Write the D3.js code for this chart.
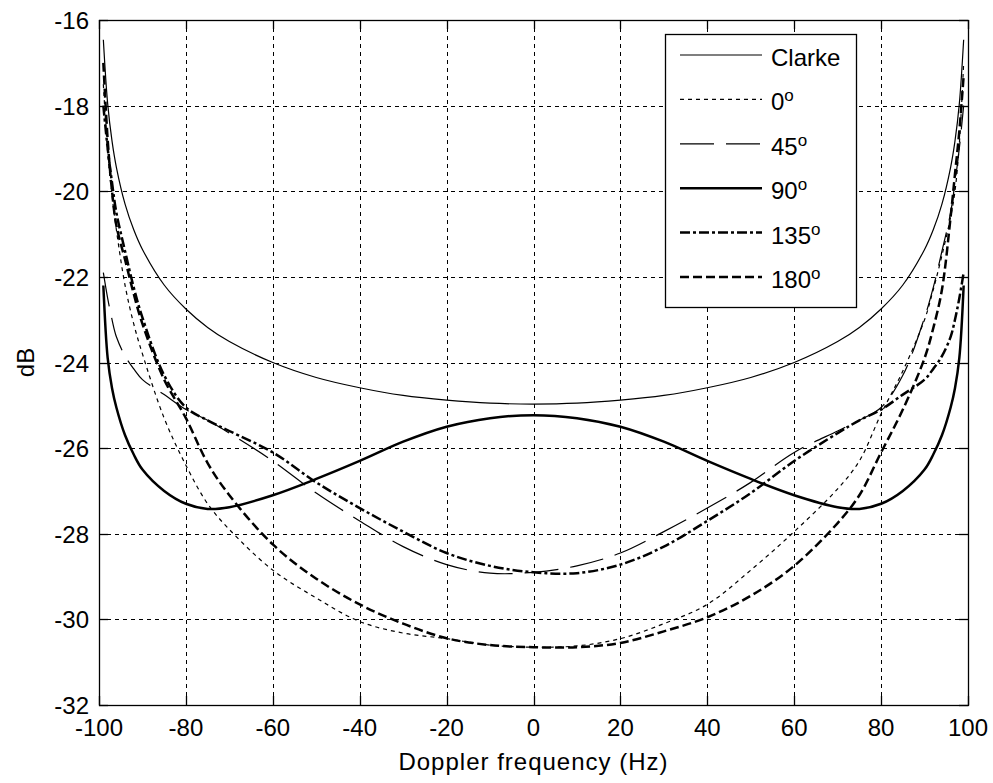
<!DOCTYPE html>
<meta charset="utf-8">
<script src="https://d3js.org/d3.v7.min.js"></script>
<style>
  body { margin: 0; background: #fff; }
  text { font-family: "Liberation Sans", Arial, sans-serif; fill: #000; }
</style>
<div id="chart"></div>
<script>

// Doppler frequency grid (Hz)
var freqs = [-99, -98, -97, -96, -94, -92, -90, -85, -80, -75, -70, -60, -50, -40, -30, -20, -10,
             0, 10, 20, 30, 40, 50, 60, 70, 75, 80, 85, 90, 92, 94, 96, 97, 98, 99];

// spectra in dB
var clarke = [-16.46, -17.96, -18.83, -19.44, -20.30, -20.90, -21.36, -22.19, -22.75, -23.18, -23.51, -24.0, -24.35, -24.59, -24.77, -24.88, -24.95,
              -24.97, -24.95, -24.88, -24.77, -24.59, -24.35, -24.0, -23.51, -23.18, -22.75, -22.19, -21.36, -20.90, -20.30, -19.44, -18.83, -17.96, -16.46];
var deg0   = [-17.5, -19.1, -20.1, -20.9, -22.2, -23.1, -23.8, -25.3, -26.4, -27.3, -27.9, -28.85, -29.5, -30.05, -30.32, -30.45, -30.6,
              -30.65, -30.62, -30.45, -30.1, -29.65, -28.85, -27.95, -26.95, -26.3, -25.2, -24.2, -23.0, -22.3, -21.5, -20.6, -20.0, -18.9, -17.0];
var deg45  = [-21.9, -22.5, -23.0, -23.4, -23.85, -24.15, -24.4, -24.75, -25.1, -25.35, -25.65, -26.3, -27.05, -27.7, -28.3, -28.72, -28.92,
              -28.9, -28.75, -28.45, -27.95, -27.4, -26.8, -26.1, -25.6, -25.35, -25.05, -24.3, -22.95, -22.25, -21.4, -20.5, -19.8, -19.0, -18.0];
var deg90  = [-22.2, -23.9, -24.6, -25.05, -25.7, -26.15, -26.5, -27.0, -27.3, -27.42, -27.38, -27.1, -26.72, -26.3, -25.85, -25.5, -25.3,
              -25.23, -25.3, -25.5, -25.85, -26.3, -26.72, -27.1, -27.38, -27.42, -27.3, -27.0, -26.5, -26.15, -25.7, -25.05, -24.6, -23.9, -22.2];
var deg135 = [-18.0, -19.0, -19.8, -20.5, -21.4, -22.25, -22.95, -24.3, -25.05, -25.35, -25.6, -26.1, -26.8, -27.4, -27.95, -28.45, -28.75,
              -28.9, -28.92, -28.72, -28.3, -27.7, -27.05, -26.3, -25.65, -25.35, -25.1, -24.75, -24.4, -24.15, -23.85, -23.4, -23.0, -22.5, -21.9];
var deg180 = [-17.0, -18.8, -20.0, -20.8, -21.6, -22.4, -23.1, -24.4, -25.3, -26.35, -27.1, -28.25, -29.05, -29.65, -30.1, -30.44, -30.6,
              -30.65, -30.65, -30.55, -30.28, -29.95, -29.45, -28.75, -27.75, -27.1, -26.1, -25.1, -23.9, -23.2, -22.3, -20.6, -19.6, -18.6, -17.3];

var xTicks = [-100, -80, -60, -40, -20, 0, 20, 40, 60, 80, 100];
var yTicks = [-32, -30, -28, -26, -24, -22, -20, -18, -16];

var seriesNames = ["Clarke", "0", "45", "90", "135", "180"];
var seriesValues = [clarke, deg0, deg45, deg90, deg135, deg180];

// line styles, same order as the series
var styles = [
  {w: 1.2, dash: null},
  {w: 1.2, dash: "4,4"},
  {w: 1.2, dash: "34,12"},
  {w: 2.5, dash: null},
  {w: 2.5, dash: "10,3,3,3"},
  {w: 2.5, dash: "9,4"}
];

var W = 993, H = 783;
var m = {left: 99, right: 968, top: 20, bottom: 705};

var svg = d3.select("#chart").append("svg")
    .attr("width", W)
    .attr("height", H);

var x = d3.scaleLinear().domain([-100, 100]).range([m.left, m.right]);
var y = d3.scaleLinear().domain([-32, -16]).range([m.bottom, m.top]);

// grid
var grid = svg.append("g")
    .attr("stroke", "#000")
    .attr("stroke-width", 1)
    .attr("stroke-dasharray", "4,4")
    .attr("shape-rendering", "crispEdges");

grid.selectAll(".gx")
  .data(xTicks.slice(1, -1))
  .enter().append("line")
    .attr("x1", d => Math.round(x(d)) + 0.5)
    .attr("x2", d => Math.round(x(d)) + 0.5)
    .attr("y1", m.top)
    .attr("y2", m.bottom);

grid.selectAll(".gy")
  .data(yTicks.slice(1, -1))
  .enter().append("line")
    .attr("y1", d => Math.round(y(d)) + 0.5)
    .attr("y2", d => Math.round(y(d)) + 0.5)
    .attr("x1", m.left)
    .attr("x2", m.right);

// curves
svg.append("clipPath").attr("id", "clip")
  .append("rect")
    .attr("x", m.left).attr("y", m.top)
    .attr("width", m.right - m.left).attr("height", m.bottom - m.top);

var line = d3.line()
    .x(d => x(d[0]))
    .y(d => y(d[1]))
    .curve(d3.curveCatmullRom.alpha(0.5));

svg.append("g")
    .attr("clip-path", "url(#clip)")
  .selectAll("path")
  .data(seriesValues)
  .enter().append("path")
    .attr("d", vals => line(freqs.map((f, i) => [f, vals[i]])))
    .attr("fill", "none")
    .attr("stroke", "#000")
    .attr("stroke-width", (d, i) => styles[i].w)
    .attr("stroke-dasharray", (d, i) => styles[i].dash);

// axes box and ticks
svg.append("rect")
    .attr("x", m.left + 0.5).attr("y", m.top + 0.5)
    .attr("width", m.right - m.left).attr("height", m.bottom - m.top)
    .attr("fill", "none")
    .attr("stroke", "#000")
    .attr("stroke-width", 1.3);

var tickLen = 9;
var ticks = svg.append("g").attr("stroke", "#000").attr("stroke-width", 1.3);
xTicks.forEach(function(t) {
  var px = Math.round(x(t)) + 0.5;
  ticks.append("line").attr("x1", px).attr("x2", px).attr("y1", m.bottom).attr("y2", m.bottom - tickLen);
  ticks.append("line").attr("x1", px).attr("x2", px).attr("y1", m.top).attr("y2", m.top + tickLen);
});
yTicks.forEach(function(t) {
  var py = Math.round(y(t)) + 0.5;
  ticks.append("line").attr("y1", py).attr("y2", py).attr("x1", m.left).attr("x2", m.left + tickLen);
  ticks.append("line").attr("y1", py).attr("y2", py).attr("x1", m.right).attr("x2", m.right - tickLen);
});

svg.append("g").selectAll("text")
  .data(xTicks)
  .enter().append("text")
    .attr("x", d => x(d))
    .attr("y", m.bottom + 31)
    .attr("text-anchor", "middle")
    .style("font-size", "24px")
    .text(d => d);

svg.append("g").selectAll("text")
  .data(yTicks)
  .enter().append("text")
    .attr("x", m.left - 10)
    .attr("y", d => y(d) + 9)
    .attr("text-anchor", "end")
    .style("font-size", "24px")
    .text(d => d);

svg.append("text")
    .attr("x", (m.left + m.right) / 2)
    .attr("y", 770)
    .attr("text-anchor", "middle")
    .style("font-size", "24px")
    .style("letter-spacing", "1px")
    .text("Doppler frequency (Hz)");

svg.append("text")
    .attr("transform", "translate(34," + ((m.top + m.bottom) / 2) + ") rotate(-90)")
    .attr("text-anchor", "middle")
    .style("font-size", "24px")
    .text("dB");

// legend
var lg = svg.append("g");
lg.append("rect")
    .attr("x", 665.5).attr("y", 34.5)
    .attr("width", 191).attr("height", 273)
    .attr("fill", "#fff")
    .attr("stroke", "#000")
    .attr("stroke-width", 1.3);

seriesNames.forEach(function(name, i) {
  var ly = 55 + i * 44.4;
  lg.append("line")
      .attr("x1", 680).attr("x2", 762)
      .attr("y1", ly).attr("y2", ly)
      .attr("stroke", "#000")
      .attr("stroke-width", styles[i].w)
      .attr("stroke-dasharray", styles[i].dash);
  var t = lg.append("text")
      .attr("x", 771)
      .attr("y", ly + 11)
      .style("font-size", "24px");
  if (i === 0) {
    t.text(name);
  } else {
    t.append("tspan").text(name);
    t.append("tspan")
        .attr("dy", -9)
        .style("font-size", "17px")
        .text("o");
  }
});

</script>
